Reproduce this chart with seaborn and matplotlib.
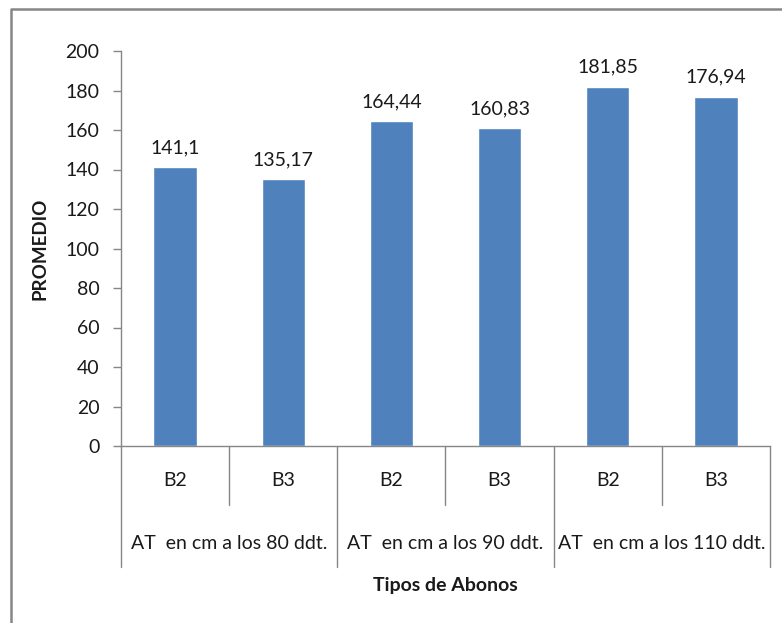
import matplotlib
matplotlib.use("Agg")
import matplotlib.pyplot as plt
from matplotlib.lines import Line2D
import seaborn as sns
import pandas as pd

# Data
grupos = ["AT  en cm a los 80 ddt.", "AT  en cm a los 90 ddt.", "AT  en cm a los 110 ddt."]
abonos = ["B2", "B3"]
promedio = [141.1, 135.17, 164.44, 160.83, 181.85, 176.94]
etiquetas = ["141,1", "135,17", "164,44", "160,83", "181,85", "176,94"]
y_ticks = [0, 20, 40, 60, 80, 100, 120, 140, 160, 180, 200]

sns.set_theme(style="white")
plt.rcParams["font.family"] = ["Lato", "DejaVu Sans"]

filas = []
for gi, g in enumerate(grupos):
    for ai, a in enumerate(abonos):
        filas.append({"clave": f"{a} | {g}", "grupo": g, "abono": a,
                      "promedio": promedio[gi * len(abonos) + ai]})
df = pd.DataFrame(filas)
orden = list(df["clave"])

FS = 14
W, H = 782, 623
fig = plt.figure(figsize=(W / 100, H / 100), dpi=100)
ax = fig.add_axes([121 / W, 1 - 446 / H, (770 - 121) / W, (446 - 51) / H])

sns.barplot(data=df, x="clave", y="promedio", order=orden, color="#4F81BD",
            width=0.4, saturation=1, ax=ax, errorbar=None)

gris = "#868686"
texto = "#1a1a1a"
ax.set_ylim(0, 200)
ax.set_xlim(-0.5, len(orden) - 0.5)
ax.set_yticks(y_ticks)
ax.set_yticklabels([str(t) for t in y_ticks], fontsize=FS, color=texto)
ax.tick_params(axis="y", which="major", left=True, length=5.5, width=1, color=gris, pad=10)
ax.set_xticks([])
ax.set_xlabel("")
ax.set_ylabel("PROMEDIO", fontsize=FS - 0.5, fontweight="bold", color=texto, labelpad=12)
for s in ["top", "right"]:
    ax.spines[s].set_visible(False)
for s in ["left", "bottom"]:
    ax.spines[s].set_color(gris)
    ax.spines[s].set_linewidth(1)

# Value labels above each bar
for patch, lab in zip(ax.patches, etiquetas):
    x = patch.get_x() + patch.get_width() / 2
    ax.annotate(lab, (x, patch.get_height()), xytext=(0, 8), textcoords="offset points",
                ha="center", va="bottom", fontsize=FS, color=texto)

# Two-level category axis
trans = ax.get_xaxis_transform()
n = len(orden)
for i in range(n + 1):
    xb = i - 0.5
    y_end = -0.306 if i % len(abonos) == 0 else -0.149
    ax.add_line(Line2D([xb, xb], [0, y_end], transform=trans, color=gris,
                       linewidth=1, clip_on=False))
for i, row in df.iterrows():
    ax.text(i, -0.0886, row["abono"], transform=trans, ha="center", va="center",
            fontsize=FS, color=texto)
for gi, g in enumerate(grupos):
    xc = gi * len(abonos) + (len(abonos) - 1) / 2
    ax.text(xc, -0.2456, g, transform=trans, ha="center", va="center",
            fontsize=FS, color=texto)
ax.text((n - 1) / 2, -0.352, "Tipos de Abonos", transform=trans, ha="center",
        va="center", fontsize=FS, fontweight="bold", color=texto)

# Chart area border
fig.add_artist(Line2D([10.5 / W, 10.5 / W, 1], [0, 1 - 8.5 / H, 1 - 8.5 / H],
                      transform=fig.transFigure, color=gris, linewidth=1.8))

fig.savefig("out.png", dpi=100)
